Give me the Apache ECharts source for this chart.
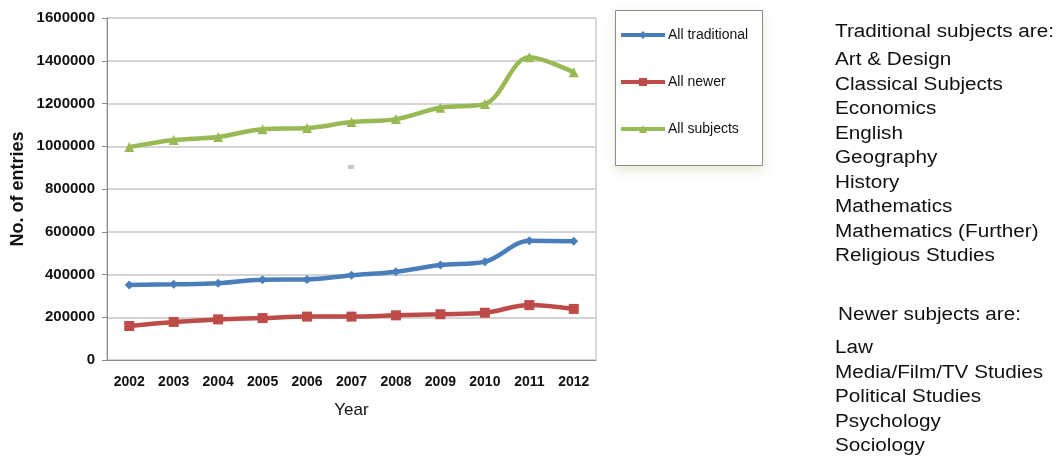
<!DOCTYPE html>
<html><head><meta charset="utf-8">
<script src="https://cdn.jsdelivr.net/npm/echarts@6/dist/echarts.min.js"></script>
<style>html,body{margin:0;padding:0;background:#fff}#c{width:1062px;height:458px}</style>
</head><body><div id="c"></div>
<script>
const years = ['2002','2003','2004','2005','2006','2007','2008','2009','2010','2011','2012'];
const allTraditional = [351000, 354000, 359000, 376000, 377000, 396000, 413000, 444000, 460000, 558000, 555000];
const allNewer = [159000, 178000, 190000, 196000, 203000, 203000, 209000, 214000, 221000, 257000, 239000];
const allSubjects = [996000, 1029000, 1043000, 1080000, 1085000, 1113000, 1127000, 1180000, 1198000, 1416000, 1346000];
const seriesNames = ['All traditional', 'All newer', 'All subjects'];
const traditionalSubjects = ['Art & Design','Classical Subjects','Economics','English','Geography','History','Mathematics','Mathematics (Further)','Religious Studies'];
const newerSubjects = ['Law','Media/Film/TV Studies','Political Studies','Psychology','Sociology'];

const chart = echarts.init(document.getElementById('c'));
const font = 'Liberation Sans, Arial, sans-serif';
function mk(name, data, color, symbol, size) {
  return { name, type: 'line', data, smooth: 0.35, symbol, symbolSize: size,
    lineStyle: { color, width: 4.5 }, itemStyle: { color }, z: 3 };
}
function txt(left, top, text) {
  return { type: 'text', left, top, scaleX: 1.15, originX: 0,
    style: { text, font: '18px ' + font, lineHeight: 24.5, fill: '#111' } };
}
chart.setOption({
  animation: false,
  grid: { left: 107, right: 466, top: 18, bottom: 98, show: true, borderColor: '#b3b3b3', borderWidth: 1 },
  xAxis: {
    type: 'category', data: years, boundaryGap: true,
    name: 'Year', nameLocation: 'middle', nameGap: 42,
    nameTextStyle: { fontFamily: font, fontSize: 17, color: '#111' },
    axisLine: { lineStyle: { color: '#8c8c8c' } },
    axisTick: { lineStyle: { color: '#8c8c8c' }, length: 6 },
    axisLabel: { fontFamily: font, fontSize: 14, fontWeight: 'bold', color: '#111', margin: 15 }
  },
  yAxis: {
    type: 'value', min: 0, max: 1600000, interval: 200000,
    name: 'No. of entries', nameLocation: 'middle', nameGap: 80,
    nameTextStyle: { fontFamily: font, fontSize: 18, fontWeight: 'bold', color: '#111' },
    axisLine: { show: true, lineStyle: { color: '#8c8c8c' } },
    axisTick: { show: true, lineStyle: { color: '#8c8c8c' }, length: 5 },
    axisLabel: { fontFamily: font, fontSize: 15, fontWeight: 'bold', color: '#111', margin: 12,
      formatter: v => String(v) },
    splitLine: { lineStyle: { color: '#d4d4d4', width: 2 } }
  },
  legend: {
    orient: 'vertical', left: 614, top: 23, itemWidth: 44, itemHeight: 10, itemGap: 33,
    data: seriesNames, lineStyle: { width: 4 },
    textStyle: { fontFamily: font, fontSize: 14, color: '#111', padding: [0,0,0,-2] }
  },
  graphic: [
    { type: 'rect', left: 615, top: 10, shape: { width: 147, height: 155 }, z: -1,
      style: { fill: '#fff', stroke: '#8c8c8c', lineWidth: 1, shadowBlur: 10, shadowColor: 'rgba(150,180,100,0.25)', shadowOffsetY: 4 } },
    { type: 'rect', left: 348, top: 165, shape: { width: 6, height: 4 }, style: { fill: '#c8c8c8' } },
    txt(835, 20, 'Traditional subjects are:'),
    txt(835, 48, traditionalSubjects.join('\n')),
    txt(838, 303, 'Newer subjects are:'),
    txt(835, 336, newerSubjects.join('\n'))
  ],
  series: [
    mk(seriesNames[0], allTraditional, '#4a7ebb', 'diamond', 9),
    mk(seriesNames[1], allNewer, '#be4b48', 'rect', 10),
    mk(seriesNames[2], allSubjects, '#98b954', 'triangle', 10)
  ]
});
</script></body></html>
